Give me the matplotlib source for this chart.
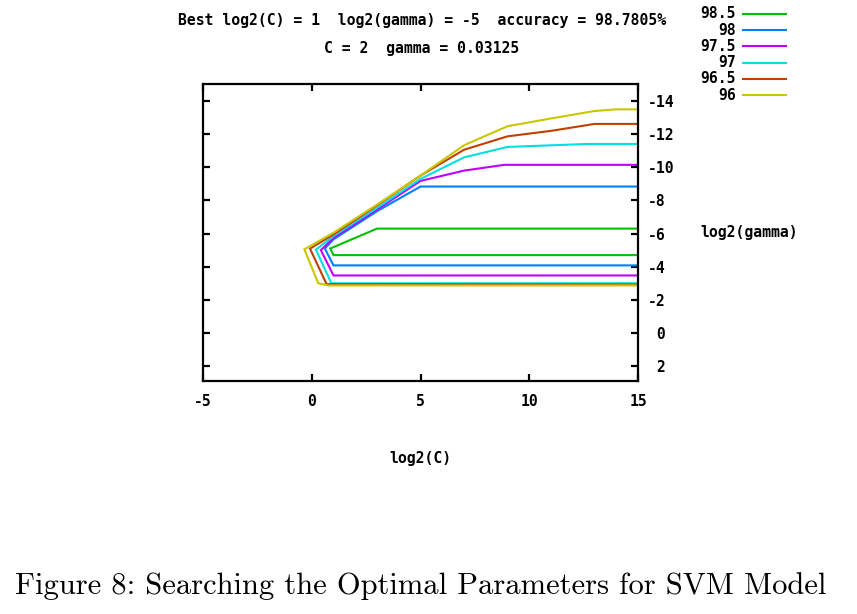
import matplotlib
matplotlib.use("Agg")
import matplotlib.pyplot as plt
from matplotlib.lines import Line2D

# ── Data (contour lines) ─────────────────────────────────────────────────────

levels = ["98.5", "98", "97.5", "97", "96.5", "96"]
colors = ["#00c000", "#0080ff", "#c000ff", "#00e0e0", "#c04000", "#c8c800"]

c_985 = [15, 3, 0.85, 1.0, 15]
g_985 = [-6.3, -6.3, -5.1, -4.7, -4.7]

c_98 = [15, 5, 3, 1, 0.6, 1.0, 15]
g_98 = [-8.84, -8.84, -7.35, -5.65, -5.1, -4.08, -4.08]

c_975 = [15, 8.85, 7, 5, 3, 1, 0.42, 1.0, 15]
g_975 = [-10.15, -10.15, -9.8, -9.18, -7.45, -5.75, -5.0, -3.47, -3.47]

c_97 = [15, 12.66, 9, 7, 5, 3, 1, 0.19, 0.9, 15]
g_97 = [-11.41, -11.41, -11.23, -10.6, -9.3, -7.55, -5.85, -5.03, -3.0, -3.0]

c_965 = [15, 13, 11, 9, 7, 5, 3, 1, -0.08, 0.68, 15]
g_965 = [-12.62, -12.62, -12.2, -11.87, -11.06, -9.5, -7.7, -5.95, -5.09, -2.95, -2.93]

c_96 = [15, 14, 13, 11, 9, 7, 5, 3, 1, -0.34, 0.3, 0.76, 15]
g_96 = [-13.5, -13.5, -13.4, -12.95, -12.48, -11.33, -9.5, -7.75, -6.05, -5.05, -3.0, -2.87, -2.87]

series_c = [c_985, c_98, c_975, c_97, c_965, c_96]
series_g = [g_985, g_98, g_975, g_97, g_965, g_96]

xticks = [-5, 0, 5, 10, 15]
yticks = [-14, -12, -10, -8, -6, -4, -2, 0, 2]
ytick_labels = ["-14", "-12", "-10", "-8", "-6", "-4", "-2", " 0", " 2"]

title1 = "Best log2(C) = 1  log2(gamma) = -5  accuracy = 98.7805%"
title2 = "C = 2  gamma = 0.03125"
caption = "Figure 8: Searching the Optimal Parameters for SVM Model"

# ── Plot ─────────────────────────────────────────────────────────────────────

W, H = 857, 614
MONO = dict(family="DejaVu Sans Mono", weight="bold", size=10.6)

fig = plt.figure(figsize=(W / 100, H / 100), dpi=100)
ax = fig.add_axes([203 / W, 1 - 381 / H, 435 / W, 297 / H])

for xs, ys, col in zip(series_c, series_g, colors):
    ax.plot(xs, ys, color=col, linewidth=1.5, solid_joinstyle="miter")

ax.set_xlim(-5, 15)
ax.set_ylim(2.9, -15.03)
ax.set_xticks(xticks)
ax.set_xticklabels([str(v) for v in xticks])
ax.set_yticks(yticks)
ax.set_yticklabels(ytick_labels)
ax.yaxis.tick_right()
ax.tick_params(axis="both", direction="in", length=5, width=1.6,
               top=True, bottom=True, left=True, right=True,
               labelleft=False, labelright=True)
ax.tick_params(axis="x", pad=9)
ax.tick_params(axis="y", pad=7)
for lab in ax.get_xticklabels() + ax.get_yticklabels():
    lab.set_fontfamily(MONO["family"])
    lab.set_fontweight("bold")
    lab.set_fontsize(MONO["size"])
for sp in ax.spines.values():
    sp.set_linewidth(1.6)

# titles and axis labels
fig.text(422 / W, 1 - 20 / H, title1, ha="center", va="center", **MONO)
fig.text(422 / W, 1 - 49 / H, title2, ha="center", va="center", **MONO)
fig.text(420 / W, 1 - 458 / H, "log2(C)", ha="center", va="center", **MONO)
fig.text(700 / W, 1 - 233 / H, "log2(gamma)", ha="left", va="center", **MONO)

# key, gnuplot style: label then line sample
for i, (lvl, col) in enumerate(zip(levels, colors)):
    y = 1 - (14 + i * 16.2) / H
    fig.text(736 / W, y, lvl, ha="right", va="center", **MONO)
    fig.add_artist(Line2D([743 / W, 786 / W], [y, y], color=col,
                          linewidth=1.5, transform=fig.transFigure))

fig.text(421 / W, 1 - 586 / H, caption, ha="center", va="center",
         family="cmr10", size=22)

fig.savefig("out.png", dpi=100)
